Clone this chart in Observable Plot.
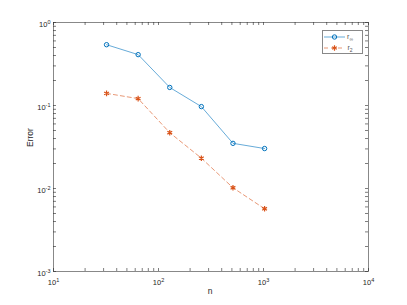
<!DOCTYPE html>
<html>
<head>
<meta charset="utf-8">
<script src="https://cdn.jsdelivr.net/npm/d3@7"></script>
<script src="https://cdn.jsdelivr.net/npm/@observablehq/plot@0.6"></script>
<style>
  html, body { margin: 0; padding: 0; background: #fff; }
  #chart svg { display: block; }
</style>
</head>
<body>
<div id="chart"></div>
<script>
// ---- data ----
const n = [32, 64, 128, 256, 512, 1024];
const rInf = [0.54, 0.41, 0.165, 0.097, 0.035, 0.0303];
const r2 = [0.14, 0.121, 0.047, 0.0232, 0.0102, 0.0057];
const seriesNames = ["r_∞", "r_2"];
const xMajor = [10, 100, 1000, 10000];
const xTickLabels = ["10^1", "10^2", "10^3", "10^4"];
const yMajor = [0.001, 0.01, 0.1, 1];
const yTickLabels = ["10^-3", "10^-2", "10^-1", "10^0"];
const xLabel = "n";
const yLabel = "Error";

// ---- layout ----
const W = 407, H = 305;
const M = {top: 22, right: 39, bottom: 34, left: 53};
const innerW = W - M.left - M.right, innerH = H - M.top - M.bottom;
const blue = "#0072BD", orange = "#D95319", axisCol = "#262626";
const font = "Liberation Sans, Arial, Helvetica, sans-serif";

const minorOf = (major) => major.slice(0, -1).flatMap(d => [2,3,4,5,6,7,8,9].map(k => d * k));
const xTicks = xMajor.concat(minorOf(xMajor));
const yTicks = yMajor.concat(minorOf(yMajor));

const dataInf = n.map((x, i) => ({n: x, v: rInf[i]}));
const data2 = n.map((x, i) => ({n: x, v: r2[i]}));
const xLab = xMajor.map((x, i) => ({x, t: xTickLabels[i]}));
const yLab = yMajor.map((y, i) => ({y, t: yTickLabels[i]}));

const tl = 3;
const svg = Plot.plot({
  width: W, height: H,
  marginTop: M.top, marginRight: M.right, marginBottom: M.bottom, marginLeft: M.left,
  style: {fontFamily: font, background: "#fff"},
  x: {type: "log", domain: [10, 10000], axis: null},
  y: {type: "log", domain: [0.001, 1], axis: null},
  marks: [
    // ticks (inside, on all four sides)
    Plot.tickX(xTicks, {x: d => d, insetTop: innerH - tl, stroke: axisCol, strokeOpacity: 0.6}),
    Plot.tickX(xTicks, {x: d => d, insetBottom: innerH - tl, stroke: axisCol, strokeOpacity: 0.6}),
    Plot.tickY(yTicks, {y: d => d, insetRight: innerW - tl, stroke: axisCol, strokeOpacity: 0.6}),
    Plot.tickY(yTicks, {y: d => d, insetLeft: innerW - tl, stroke: axisCol, strokeOpacity: 0.6}),
    Plot.frame({stroke: axisCol, strokeOpacity: 0.55}),
    // tick labels
    Plot.text(xLab, {x: "x", y: () => 0.001, text: "t", dy: 11, fontSize: 7.5, fill: axisCol, className: "exp-label", textAnchor: "middle"}),
    Plot.text(yLab, {x: () => 10, y: "y", text: "t", dx: -3, dy: 2, fontSize: 7.5, fill: axisCol, className: "exp-label", textAnchor: "end"}),
    // axis titles
    Plot.text([xLabel], {frameAnchor: "bottom", dy: 22, dx: -1, text: d => d, fontSize: 8.5, fill: axisCol}),
    Plot.text([yLabel], {frameAnchor: "left", dx: -23, text: d => d, rotate: -90, fontSize: 8.5, fill: axisCol}),
    // series
    Plot.line(dataInf, {x: "n", y: "v", stroke: blue, strokeWidth: 0.6}),
    Plot.dot(dataInf, {x: "n", y: "v", r: 2.2, stroke: blue, strokeWidth: 1, fill: "none"}),
    Plot.line(data2, {x: "n", y: "v", stroke: orange, strokeWidth: 0.6, strokeDasharray: "4,3"}),
    Plot.dot(data2, {x: "n", y: "v", r: 2.6, symbol: "asterisk", stroke: orange, strokeWidth: 1.2})
  ]
});

// superscript exponents in tick labels
d3.select(svg).selectAll(".exp-label text").each(function() {
  const s = this.textContent;
  const [base, exp] = s.split("^");
  const t = d3.select(this);
  t.text(null);
  t.append("tspan").text(base);
  t.append("tspan").attr("dy", "-3").attr("font-size", 5.5).text(exp);
});

// legend (inside plot, top-right)
const lg = d3.select(svg).append("g").attr("font-family", font);
const lx = 322, ly = 30, lw = 40, lh = 23;
lg.append("rect").attr("x", lx + 0.5).attr("y", ly + 0.5).attr("width", lw).attr("height", lh)
  .attr("fill", "#fff").attr("stroke", axisCol).attr("stroke-opacity", 0.55);
const entries = [
  {name: seriesNames[0], color: blue, sym: d3.symbolCircle, size: Math.PI * 2.2 * 2.2, dash: null, sw: 1},
  {name: seriesNames[1], color: orange, sym: d3.symbolAsterisk, size: 20, dash: "4,3", sw: 1.2}
];
entries.forEach((e, i) => {
  const y = ly + 7 + i * 11;
  lg.append("line").attr("x1", lx + 2).attr("x2", lx + 23).attr("y1", y).attr("y2", y)
    .attr("stroke", e.color).attr("stroke-width", 0.6).attr("stroke-dasharray", e.dash);
  lg.append("path").attr("transform", `translate(${lx + 12.5},${y})`)
    .attr("d", d3.symbol(e.sym, e.size)()).attr("fill", "none").attr("stroke", e.color).attr("stroke-width", e.sw);
  const [b, sub] = e.name.split("_");
  const t = lg.append("text").attr("x", lx + 28).attr("y", y + 1.5).attr("font-size", 7).attr("fill", "#555");
  t.append("tspan").text(b);
  t.append("tspan").attr("dy", 2).attr("font-size", 5).text(sub);
});

document.getElementById("chart").appendChild(svg);
</script>
</body>
</html>
